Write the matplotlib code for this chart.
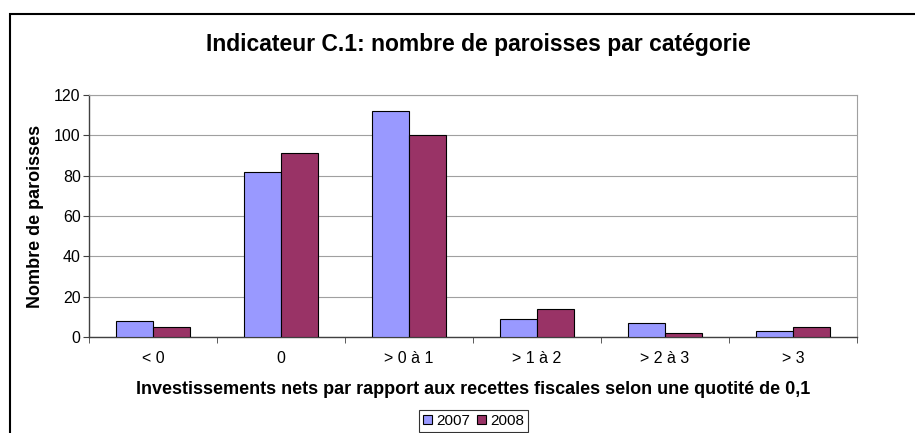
import matplotlib

matplotlib.use("Agg")
import matplotlib.pyplot as plt
import numpy as np
from matplotlib.patches import Rectangle

plt.rcParams["font.family"] = ["Liberation Sans", "DejaVu Sans"]

categories = ["< 0", "0", "> 0 à 1", "> 1 à 2", "> 2 à 3", "> 3"]
vals_2007 = [8, 82, 112, 9, 7, 3]
vals_2008 = [5, 91, 100, 14, 2, 5]
series_labels = ["2007", "2008"]
colors = ["#9999FF", "#993366"]

fig = plt.figure(figsize=(9.15, 4.33), dpi=100)
ax = fig.add_axes([0.0973, 0.2217, 0.8393, 0.5589])

# outer chart frame (cropped at right and bottom like the original)
fig.patches.append(Rectangle((10 / 915, -0.1), 1.2, 1 - 14 / 433 + 0.1,
                             transform=fig.transFigure, fill=False,
                             edgecolor="black", lw=1.5, zorder=0))

x = np.arange(len(categories))
w = 0.29
ax.bar(x - w / 2, vals_2007, w, color=colors[0], edgecolor="black", lw=0.8,
       label=series_labels[0], zorder=3)
ax.bar(x + w / 2, vals_2008, w, color=colors[1], edgecolor="black", lw=0.8,
       label=series_labels[1], zorder=3)

ax.set_xlim(-0.5, len(categories) - 0.5)
ax.set_ylim(0, 120)
ax.set_yticks(range(0, 121, 20))
ax.yaxis.grid(True, color="#A0A0A0", lw=0.8)
ax.set_axisbelow(True)

ax.set_xticks(x)
ax.set_xticklabels(categories)
ax.set_xticks(np.arange(-0.5, len(categories)), minor=True)
ax.tick_params(axis="x", which="major", length=0, pad=10, labelsize=11.5)
ax.tick_params(axis="x", which="minor", length=4, direction="out", color="#404040")
ax.tick_params(axis="y", length=4, direction="out", color="#404040", labelsize=11.5, pad=2)

for side in ["left", "bottom"]:
    ax.spines[side].set_color("#404040")
    ax.spines[side].set_linewidth(1.0)
ax.spines["top"].set_color("#A0A0A0")
ax.spines["right"].set_color("#A0A0A0")

ax.set_ylabel("Nombre de paroisses", fontsize=13, fontweight="bold", labelpad=7)
ax.set_xlabel("Investissements nets par rapport aux recettes fiscales selon une quotité de 0,1",
              fontsize=13, fontweight="bold", labelpad=11)

fig.text(0.523, 1 - 44 / 433, "Indicateur C.1: nombre de paroisses par catégorie",
         ha="center", va="center", fontsize=16.5, fontweight="bold")

leg = fig.legend(loc="center", bbox_to_anchor=(0.5175, 1 - 421 / 433), ncol=2,
                 fontsize=11, frameon=True, fancybox=False, edgecolor="black",
                 handlelength=0.6, handleheight=0.6, handletextpad=0.25,
                 columnspacing=0.5, borderpad=0.25, borderaxespad=0)
leg.get_frame().set_linewidth(0.8)

fig.savefig("out.png", dpi=100)
